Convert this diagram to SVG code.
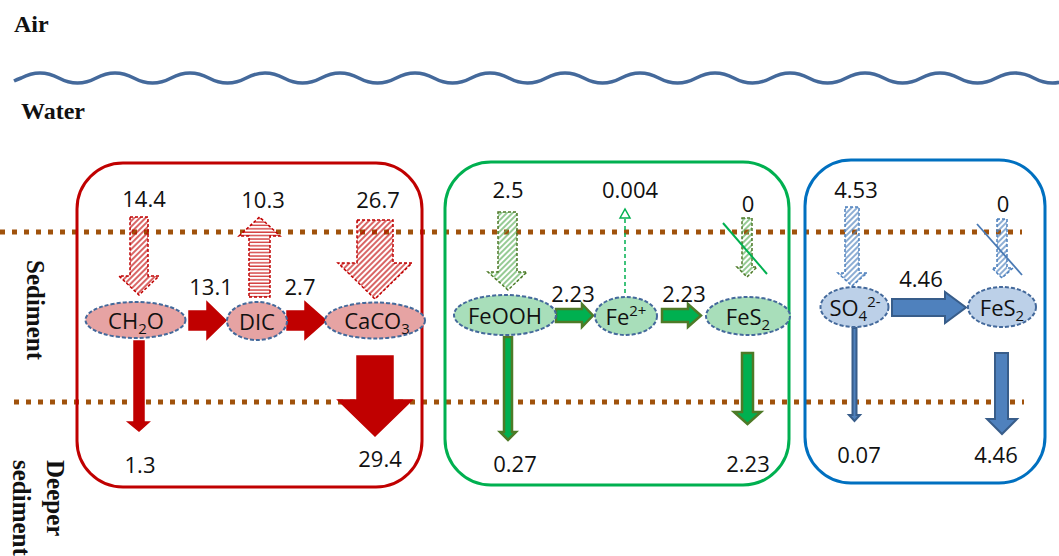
<svg xmlns="http://www.w3.org/2000/svg" width="1059" height="556" viewBox="0 0 1059 556">
<style>
.lbl{font-family:"Open Sans","Liberation Sans",sans-serif;font-size:22px;fill:#111;text-anchor:middle}
.zone{font-family:"Liberation Serif","Times New Roman",serif;font-size:24px;font-weight:bold;fill:#111}
.zoneR{font-family:"Liberation Serif","Times New Roman",serif;font-size:25px;font-weight:bold;fill:#111}
.dots{stroke:#A0520C;stroke-width:5;stroke-dasharray:5 7;fill:none}
.box{fill:none;stroke-width:3}
.ell{stroke:#44699B;stroke-width:2;stroke-dasharray:4 2}
.eR{fill:#E6A3A3}
.eG{fill:#A8DEBA}
.eB{fill:#BCD0E8}
.aRs{fill:#C00000;stroke:#C00000;stroke-width:1.5}
.aRh{fill:url(#hR);stroke:#C00000;stroke-width:1.5;stroke-dasharray:3 2}
.aRst{fill:url(#sR);stroke:#C00000;stroke-width:1.5;stroke-dasharray:3 2}
.aGs{fill:#00B050;stroke:#4E7A27;stroke-width:2.5}
.aGh{fill:url(#hG);stroke:#4E7A27;stroke-width:1.5;stroke-dasharray:3 2}
.aBs{fill:#4F81BD;stroke:#385D8A;stroke-width:2}
.aBh{fill:url(#hB);stroke:#4F81BD;stroke-width:1.5;stroke-dasharray:3 2}
</style>
<defs>
<pattern id="hR" width="4" height="4" patternUnits="userSpaceOnUse" patternTransform="rotate(45)"><line x1="1" y1="0" x2="1" y2="4" stroke="#C00000" stroke-width="1.2"/></pattern>
<pattern id="sR" width="4" height="3.4" patternUnits="userSpaceOnUse"><rect width="4" height="3.4" fill="#fff"/><line x1="0" y1="1" x2="4" y2="1" stroke="#D03030" stroke-width="1.3"/></pattern>
<pattern id="hG" width="4" height="4" patternUnits="userSpaceOnUse" patternTransform="rotate(45)"><line x1="1" y1="0" x2="1" y2="4" stroke="#5DAF5A" stroke-width="1.3"/></pattern>
<pattern id="hB" width="4" height="4" patternUnits="userSpaceOnUse" patternTransform="rotate(45)"><line x1="1" y1="0" x2="1" y2="4" stroke="#4F81BD" stroke-width="1.3"/></pattern>
</defs>
<rect width="1059" height="556" fill="#fff"/>

<g id="zones">
<text class="zone" x="14" y="32">Air</text>
<text class="zone" x="21" y="119">Water</text>
<text class="zoneR" transform="translate(27,260) rotate(90)">Sediment</text>
<text class="zoneR" transform="translate(47,460) rotate(90)">Deeper</text>
<text class="zoneR" transform="translate(13,460) rotate(90)">sediment</text>
<path d="M14,81 Q17,79.5 21.25,78 q18.75,-10 37.5,0 t37.5,0 t37.5,0 t37.5,0 t37.5,0 t37.5,0 t37.5,0 t37.5,0 t37.5,0 t37.5,0 t37.5,0 t37.5,0 t37.5,0 t37.5,0 t37.5,0 t37.5,0 t37.5,0 t37.5,0 t37.5,0 t37.5,0 t37.5,0 t37.5,0 t37.5,0 t37.5,0 t37.5,0 t37.5,0 t37.5,0 t37.5,0" fill="none" stroke="#44699B" stroke-width="3.5"/>
<line class="dots" x1="0" y1="232" x2="1022" y2="232"/>
<line class="dots" x1="14" y1="402" x2="1024" y2="402"/>
</g>

<g id="boxes">
<rect id="box-carbon" class="box" x="77" y="163" width="345" height="324" rx="46" stroke="#C00000"/>
<rect id="box-iron" class="box" x="445" y="162" width="344" height="323" rx="46" stroke="#00B050"/>
<rect id="box-sulfur" class="box" x="805" y="160" width="240" height="323" rx="46" stroke="#0070C0"/>
</g>

<g id="connectors">
<polygon class="aRh" points="130,217 148,217 148,276 159,276 139,295 119,276 130,276"/>
<polygon class="aRst" points="249,297 270,297 270,236 280,236 259.5,217 239,236 249,236"/>
<polygon class="aRh" points="357,220 393,220 393,263 412,263 375,299 338,263 357,263"/>
<polygon class="aRs" points="189,311 207,311 207,302 226,320.5 207,339 207,330 189,330"/>
<polygon class="aRs" points="287,311 305,311 305,302 326,320.5 305,339 305,330 287,330"/>
<polygon class="aRs" points="134,341 144,341 144,422 149,422 139,431 128,422 134,422"/>
<polygon class="aRs" points="357,356 393,356 393,400 412,400 375,436 338,400 357,400"/>

<polygon class="aGh" points="498,212 517,212 517,272 527,272 508,290 488,272 498,272"/>
<line x1="625" y1="293" x2="625" y2="216" stroke="#00B050" stroke-width="1.5" stroke-dasharray="4 3"/>
<polygon points="620,218 625,209 630,218" fill="#fff" stroke="#00B050" stroke-width="1.5"/>
<polygon class="aGh" points="742,218 752,218 752,267 757,267 747,277 737,267 742,267"/>
<line x1="723" y1="223" x2="767" y2="274" stroke="#00B050" stroke-width="2"/>
<polygon class="aGs" points="556,309 582,309 582,304 593,315.5 582,327 582,322 556,322"/>
<polygon class="aGs" points="662,309 688,309 688,304 701,315.5 688,327 688,322 662,322"/>
<polygon class="aGs" points="504,337 512,337 512,432 516,432 508,440 500,432 504,432"/>
<polygon class="aGs" points="742,353 753,353 753,412 761,412 747.5,424 734,412 742,412"/>

<polygon class="aBh" points="845,207 859,207 859,273 867,273 852,286 838,273 845,273"/>
<polygon class="aBh" points="997,219 1007,219 1007,268 1013,268 1002,278 992,268 997,268"/>
<line x1="977" y1="224" x2="1022" y2="275" stroke="#4A7AB5" stroke-width="1.8"/>
<polygon class="aBs" points="892,299 945,299 945,292 966,307.5 945,323 945,316 892,316"/>
<polygon class="aBs" points="852.5,328 856.5,328 856.5,415 860,415 854.5,421 849,415 852.5,415"/>
<polygon class="aBs" points="995,353 1008,353 1008,419 1017,419 1002,434 987,419 995,419"/>
</g>

<g id="node-ch2o"><ellipse class="ell eR" cx="135.5" cy="320" rx="50" ry="18"/><text class="lbl" x="136" y="329">CH<tspan font-size="15" dy="5">2</tspan><tspan dy="-5">O</tspan></text></g>
<g id="node-dic"><ellipse class="ell eR" cx="257" cy="321" rx="30" ry="19"/><text class="lbl" x="257" y="330">DIC</text></g>
<g id="node-caco3"><ellipse class="ell eR" cx="375" cy="320.5" rx="50" ry="18"/><text class="lbl" x="377" y="329">CaCO<tspan font-size="15" dy="5">3</tspan></text></g>

<g id="node-feooh"><ellipse class="ell eG" cx="505" cy="315" rx="51" ry="20"/><text class="lbl" x="505" y="324">FeOOH</text></g>
<g id="node-fe2"><ellipse class="ell eG" cx="626" cy="316" rx="31" ry="19"/><text class="lbl" x="626" y="325">Fe<tspan font-size="15" dy="-9">2+</tspan></text></g>
<g id="node-fes2-g"><ellipse class="ell eG" cx="748" cy="316" rx="42" ry="19"/><text class="lbl" x="748" y="325">FeS<tspan font-size="15" dy="5">2</tspan></text></g>

<g id="node-so4"><ellipse class="ell eB" cx="854.5" cy="307" rx="34" ry="20"/><text class="lbl" x="855" y="316">SO<tspan font-size="15" dy="5">4</tspan><tspan font-size="15" dy="-14">2-</tspan></text></g>
<g id="node-fes2-b"><ellipse class="ell eB" cx="1002" cy="307" rx="34" ry="20"/><text class="lbl" x="1002" y="316">FeS<tspan font-size="15" dy="5">2</tspan></text></g>

<g id="labels">
<text class="lbl" x="144" y="207">14.4</text>
<text class="lbl" x="263" y="208">10.3</text>
<text class="lbl" x="378" y="208">26.7</text>
<text class="lbl" x="211" y="295">13.1</text>
<text class="lbl" x="300" y="295">2.7</text>
<text class="lbl" x="140" y="473">1.3</text>
<text class="lbl" x="380" y="467">29.4</text>
<text class="lbl" x="508" y="198">2.5</text>
<text class="lbl" x="630" y="198">0.004</text>
<text class="lbl" x="748" y="212">0</text>
<text class="lbl" x="573" y="302">2.23</text>
<text class="lbl" x="684" y="302">2.23</text>
<text class="lbl" x="515" y="472">0.27</text>
<text class="lbl" x="748" y="472">2.23</text>
<text class="lbl" x="856" y="198">4.53</text>
<text class="lbl" x="1003" y="212">0</text>
<text class="lbl" x="921" y="287">4.46</text>
<text class="lbl" x="859" y="463">0.07</text>
<text class="lbl" x="996" y="463">4.46</text>
</g>
</svg>
